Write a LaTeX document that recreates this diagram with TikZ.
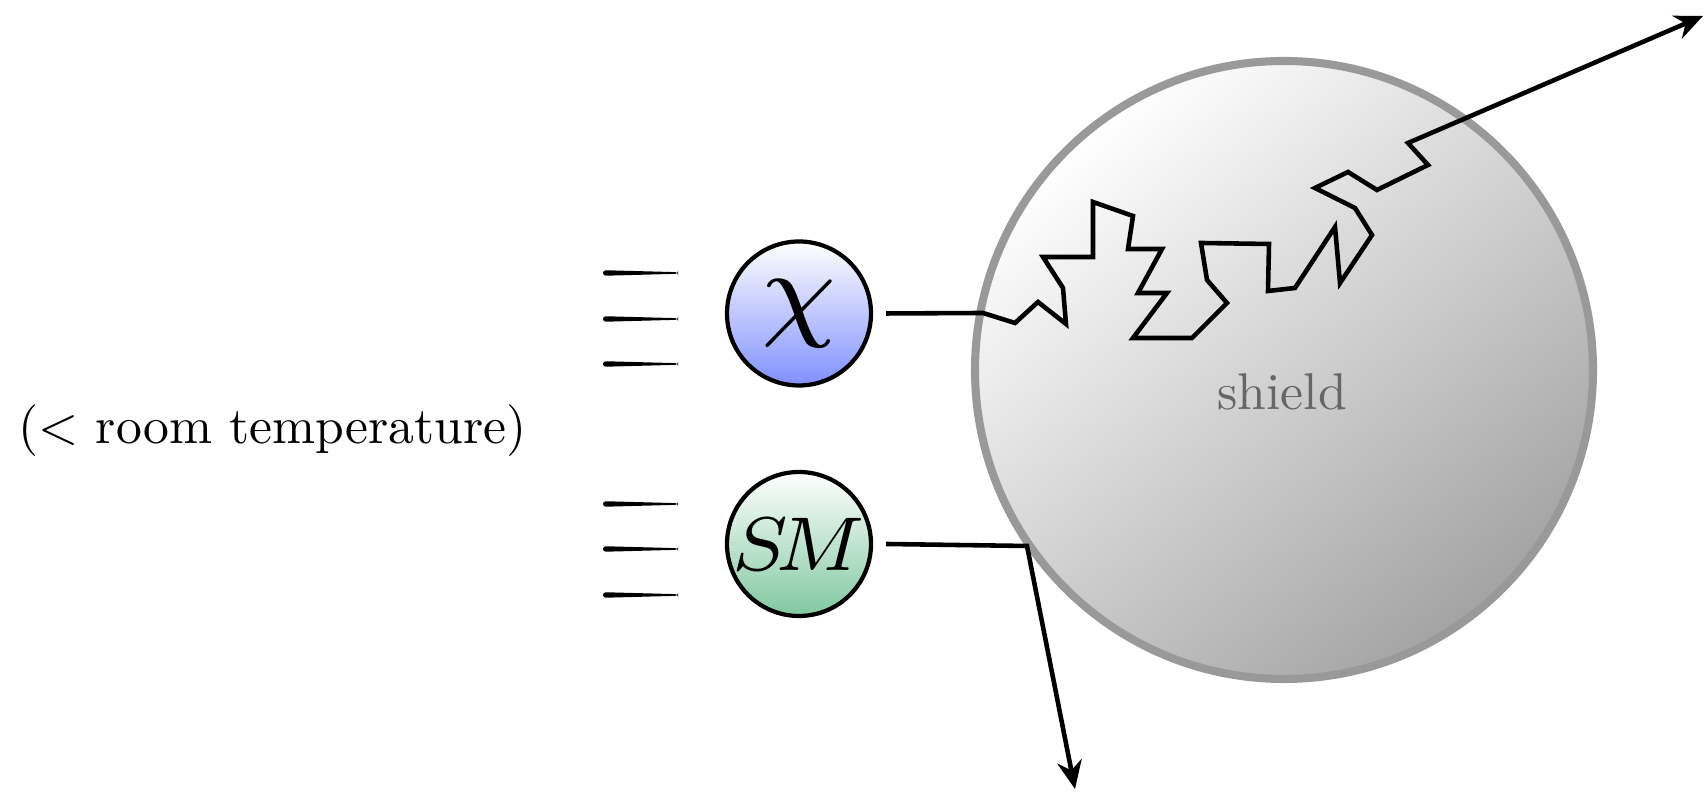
\documentclass[tikz,border=0pt]{standalone}
\usepackage{graphicx}
\usetikzlibrary{arrows.meta}
\definecolor{chiblue}{RGB}{128,144,255}
\definecolor{smgreen}{RGB}{128,200,160}
\begin{document}
\begin{tikzpicture}[>={Stealth[length=8pt,width=7pt]}]
	\tikzset{particle/.style={circle,draw,line width=1.2pt,minimum size=1.44cm,inner sep=0pt,outer sep=4.3pt,top color=white},
		lbl/.style={scale=1.47}}
	\useasboundingbox (0,0) rectangle (17.06,7.92);
	\node[circle,draw=black!40,line width=2.3pt,minimum size=6.18cm,top color=white,bottom color=black!36,shading angle=40] (shield) at (12.84,4.22) {};
	\node[lbl,text=black!60] (shieldlbl) at (12.82,4.00) {shield};
	\node[particle,bottom color=chiblue] (chi) at (7.99,4.785) {\scalebox{4.4}{$\scriptstyle\chi$}};
	\node[particle,bottom color=smgreen] (sm) at (7.99,2.48) {\scalebox{3.1}{$\scriptstyle S\!M$}};
	\node[lbl] (temp) at (2.725,3.61) {($<$ room temperature)};
	\foreach \y in {5.19,4.73,4.28,2.88,2.43,1.97}
	\fill[rounded corners=0.8pt] (6.03,\y+0.028) -- (6.78,\y+0.008) -- (6.78,\y-0.008) -- (6.03,\y-0.028) -- cycle;
	\coordinate (tipA) at (17.03,7.76);
	\coordinate (kink) at (10.27,2.46);
	\coordinate (tipB) at (10.75,0.03);
	\draw[->,line width=1.3pt] (chi.east) -- (9.83,4.79) -- (10.15,4.69) -- (10.38,4.90) -- (10.66,4.68)
		-- (10.63,5.04) -- (10.43,5.35) -- (10.93,5.35) -- (10.93,5.90) -- (11.33,5.76) -- (11.28,5.43)
		-- (11.62,5.43) -- (11.38,4.99) -- (11.67,4.99) -- (11.33,4.54) -- (11.92,4.54) -- (12.27,4.89)
		-- (12.07,5.12) -- (12.01,5.49) -- (12.69,5.48) -- (12.68,5.01) -- (12.95,5.04) -- (13.35,5.65)
		-- (13.40,5.09) -- (13.72,5.57) -- (13.55,5.84) -- (13.15,6.04) -- (13.48,6.20) -- (13.77,6.02)
		-- (14.28,6.27) -- (14.08,6.49) -- (tipA);
	\draw[->,line width=1.3pt] (sm.east) -- (kink) -- (tipB);
\end{tikzpicture}
\end{document}
